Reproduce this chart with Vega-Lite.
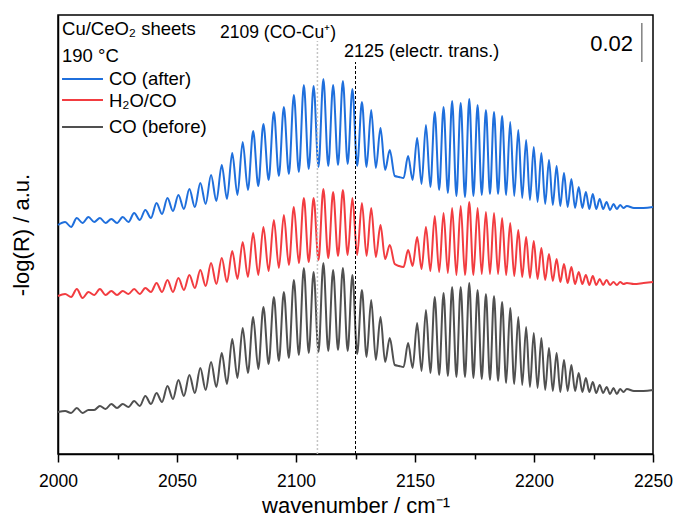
{
  "$schema": "https://vega.github.io/schema/vega-lite/v6.json",
  "width": 595,
  "height": 439,
  "autosize": {"type": "none"},
  "padding": {"left": 58, "top": 15, "right": 23, "bottom": 70},
  "background": "white",
  "config": {
    "font": "Liberation Sans",
    "view": {"stroke": "black", "strokeWidth": 1.5},
    "axis": {"grid": false, "domainColor": "black", "domainWidth": 1.5, "tickColor": "black", "tickWidth": 1.5, "labelColor": "black", "titleColor": "black", "titleFontWeight": "normal", "titleFont": "Liberation Sans", "labelFont": "Liberation Sans"}
  },
  "layer": [
    {
      "data": {"values": [
        {"x":2000,"b":114.5,"r":79,"k":21},
        {"x":2003.0,"b":116,"r":80,"k":21.5},
        {"x":2005.5,"b":113.5,"r":78.5,"k":20.5},
        {"x":2007.9,"b":118,"r":82.5,"k":23},
        {"x":2010.3,"b":115.5,"r":78,"k":20.5},
        {"x":2012.8,"b":118.5,"r":81,"k":22},
        {"x":2015.2,"b":116,"r":79.5,"k":22},
        {"x":2017.6,"b":118,"r":82.5,"k":24},
        {"x":2020.0,"b":115.5,"r":79.5,"k":22.5},
        {"x":2022.4,"b":117.5,"r":81.5,"k":25},
        {"x":2024.8,"b":115.5,"r":79.5,"k":23},
        {"x":2027.2,"b":118.5,"r":81.5,"k":25},
        {"x":2029.6,"b":116,"r":80,"k":23.5},
        {"x":2032.0,"b":120.5,"r":82.5,"k":26.5},
        {"x":2034.35,"b":117,"r":80,"k":24},
        {"x":2036.7,"b":122,"r":83,"k":29},
        {"x":2039.05,"b":118,"r":81,"k":25},
        {"x":2041.4,"b":125.5,"r":85.5,"k":30.5},
        {"x":2043.7,"b":120,"r":81,"k":26},
        {"x":2046.0,"b":128,"r":87,"k":34},
        {"x":2048.3,"b":121.5,"r":81,"k":27.5},
        {"x":2050.6,"b":129.5,"r":88,"k":37},
        {"x":2052.9,"b":122.5,"r":82,"k":29},
        {"x":2055.2,"b":132.5,"r":89.5,"k":39.5},
        {"x":2057.5,"b":123.5,"r":83,"k":30.5},
        {"x":2059.8,"b":135.5,"r":92,"k":43},
        {"x":2062.05,"b":125,"r":84,"k":32},
        {"x":2064.3,"b":139.5,"r":95.5,"k":46},
        {"x":2066.55,"b":126.5,"r":85,"k":33.5},
        {"x":2068.8,"b":144.5,"r":98,"k":50.5},
        {"x":2071.0,"b":127.5,"r":86,"k":35},
        {"x":2073.2,"b":150.5,"r":101.5,"k":57.5},
        {"x":2075.4,"b":129.5,"r":87.5,"k":38},
        {"x":2077.6,"b":156,"r":106,"k":63},
        {"x":2079.8,"b":132,"r":88.5,"k":40.5},
        {"x":2082.0,"b":161.5,"r":110.5,"k":68.5},
        {"x":2084.15,"b":134,"r":89.5,"k":42.5},
        {"x":2086.3,"b":165,"r":113.5,"k":73.5},
        {"x":2088.5,"b":137,"r":91.5,"k":45},
        {"x":2090.7,"b":171,"r":117,"k":78.5},
        {"x":2092.8,"b":139,"r":93,"k":46.5},
        {"x":2094.9,"b":173.5,"r":119.5,"k":81},
        {"x":2097.0,"b":140,"r":94.5,"k":48},
        {"x":2099.1,"b":179.5,"r":123.5,"k":87},
        {"x":2101.2,"b":141,"r":95.5,"k":49.5},
        {"x":2103.3,"b":184.5,"r":128,"k":93},
        {"x":2105.35,"b":142.5,"r":96,"k":50.5},
        {"x":2107.4,"b":184,"r":128,"k":91},
        {"x":2109.45,"b":143.5,"r":97,"k":51},
        {"x":2111.5,"b":187.5,"r":132.5,"k":95.5},
        {"x":2113.55,"b":144,"r":98,"k":51.5},
        {"x":2115.6,"b":184.5,"r":131,"k":92},
        {"x":2117.65,"b":144.5,"r":99,"k":52},
        {"x":2119.7,"b":186.5,"r":132,"k":93},
        {"x":2121.7,"b":145,"r":99.5,"k":51.5},
        {"x":2123.7,"b":182.5,"r":128,"k":89.5},
        {"x":2125.7,"b":144,"r":99.5,"k":50},
        {"x":2127.7,"b":176,"r":125.5,"k":82},
        {"x":2129.65,"b":143.5,"r":99,"k":48.5},
        {"x":2131.6,"b":172,"r":123,"k":77},
        {"x":2133.55,"b":143,"r":98.5,"k":47},
        {"x":2135.5,"b":163,"r":114.5,"k":68.5},
        {"x":2137.45,"b":142,"r":97.5,"k":46},
        {"x":2139.4,"b":152,"r":104.5,"k":58},
        {"x":2141.5,"b":139,"r":95,"k":44.5},
        {"x":2143.3,"b":138.5,"r":94,"k":44},
        {"x":2145.2,"b":138,"r":93.5,"k":43.5},
        {"x":2147.1,"b":149,"r":102,"k":55.5},
        {"x":2149.0,"b":137,"r":94,"k":43},
        {"x":2150.9,"b":158,"r":108.5,"k":65.5},
        {"x":2152.75,"b":135,"r":92.5,"k":41.5},
        {"x":2154.6,"b":164.5,"r":113.5,"k":72},
        {"x":2156.45,"b":133.5,"r":91.5,"k":40.5},
        {"x":2158.3,"b":171,"r":119,"k":78.5},
        {"x":2160.15,"b":132,"r":91,"k":39.5},
        {"x":2162.0,"b":173.5,"r":120.5,"k":80.5},
        {"x":2163.8,"b":130.5,"r":90.5,"k":39},
        {"x":2165.6,"b":176.5,"r":123,"k":83.5},
        {"x":2167.4,"b":129,"r":89.5,"k":38.5},
        {"x":2169.2,"b":175.5,"r":124,"k":83.5},
        {"x":2171.0,"b":128.5,"r":89.5,"k":38.5},
        {"x":2172.8,"b":177.5,"r":126,"k":85.5},
        {"x":2174.55,"b":129,"r":89.5,"k":38},
        {"x":2176.3,"b":174.5,"r":123,"k":82},
        {"x":2178.05,"b":129.5,"r":90,"k":37.5},
        {"x":2179.8,"b":172,"r":121,"k":80},
        {"x":2181.5,"b":130,"r":90,"k":37},
        {"x":2183.2,"b":171,"r":120.5,"k":79},
        {"x":2184.9,"b":130,"r":90,"k":36.5},
        {"x":2186.6,"b":169,"r":118,"k":76},
        {"x":2188.3,"b":129.5,"r":89.5,"k":35.5},
        {"x":2190.0,"b":166,"r":115.5,"k":73},
        {"x":2191.7,"b":129,"r":89,"k":35},
        {"x":2193.4,"b":162,"r":112,"k":68.5},
        {"x":2195.05,"b":128,"r":88.5,"k":34.5},
        {"x":2196.7,"b":157,"r":108.5,"k":63.5},
        {"x":2198.3,"b":127,"r":88,"k":33.5},
        {"x":2199.9,"b":153.5,"r":106.5,"k":60.5},
        {"x":2201.5,"b":126,"r":87.5,"k":33},
        {"x":2203.1,"b":150.5,"r":103,"k":58},
        {"x":2204.7,"b":125,"r":87,"k":32},
        {"x":2206.3,"b":147,"r":100,"k":53},
        {"x":2207.9,"b":124.5,"r":86.5,"k":31.5},
        {"x":2209.5,"b":144,"r":97.5,"k":50.5},
        {"x":2211.05,"b":124,"r":86,"k":31},
        {"x":2212.6,"b":140.5,"r":95,"k":47},
        {"x":2214.15,"b":123.5,"r":85.5,"k":31.5},
        {"x":2215.7,"b":137.5,"r":93.5,"k":44.5},
        {"x":2217.25,"b":123,"r":85,"k":31.5},
        {"x":2218.8,"b":133.5,"r":91,"k":40.5},
        {"x":2220.3,"b":123,"r":85,"k":31},
        {"x":2221.8,"b":131,"r":89.5,"k":38},
        {"x":2223.25,"b":122.5,"r":84.5,"k":31},
        {"x":2224.7,"b":130,"r":89,"k":36},
        {"x":2226.15,"b":122.5,"r":84.5,"k":30.5},
        {"x":2227.6,"b":127.5,"r":87.5,"k":34.5},
        {"x":2229.05,"b":122.5,"r":84.5,"k":30.5},
        {"x":2230.5,"b":126,"r":87,"k":33.5},
        {"x":2231.95,"b":122,"r":84.5,"k":30},
        {"x":2233.4,"b":125,"r":86,"k":33},
        {"x":2234.8,"b":122.5,"r":84.5,"k":30},
        {"x":2236.2,"b":124.5,"r":86,"k":32.5},
        {"x":2237.6,"b":123,"r":85,"k":31},
        {"x":2239.0,"b":124,"r":85.5,"k":32.5},
        {"x":2242,"b":123,"r":85,"k":31.5},
        {"x":2246,"b":123,"r":85.5,"k":31.5},
        {"x":2250,"b":123.5,"r":86,"k":32}
      ]},
      "transform": [{"fold": ["k", "r", "b"], "as": ["s", "y"]}],
      "mark": {"type": "line", "interpolate": "monotone", "strokeWidth": 2},
      "encoding": {
        "x": {"field": "x", "type": "quantitative",
          "scale": {"domain": [2000, 2250], "nice": false, "zero": false},
          "axis": {
            "title": "wavenumber / cm⁻¹",
            "values": [2000, 2025, 2050, 2075, 2100, 2125, 2150, 2175, 2200, 2225, 2250],
            "labelExpr": "datum.value % 50 === 0 ? datum.label : ''",
            "format": "d",
            "tickSize": {"condition": {"test": "datum.value % 50 !== 0", "value": 5}, "value": 8},
            "labelFontSize": 17.5,
            "labelPadding": 10,
            "labelFlush": false,
            "labelOverlap": false,
            "titleFontSize": 22,
            "titlePadding": 6
          }
        },
        "y": {"field": "y", "type": "quantitative",
          "scale": {"domain": [0, 219.5], "nice": false, "zero": false},
          "axis": {"title": "-log(R) / a.u.", "labels": false, "ticks": false, "titleFontSize": 22, "titlePadding": 25}
        },
        "color": {"field": "s", "type": "nominal",
          "scale": {"domain": ["b", "r", "k"], "range": ["#1f6fdc", "#f23c40", "#505050"]},
          "legend": null}
      }
    },
    {
      "data": {"values": [{}]},
      "mark": {"type": "rule", "color": "#c4c4c4", "strokeWidth": 1.5, "strokeDash": [2, 2]},
      "encoding": {"x": {"datum": 2109}, "y": {"datum": 0}, "y2": {"datum": 206.5}}
    },
    {
      "data": {"values": [{}]},
      "mark": {"type": "rule", "color": "black", "strokeWidth": 1, "strokeDash": [3, 2]},
      "encoding": {"x": {"datum": 2125}, "y": {"datum": 0}, "y2": {"datum": 196}}
    },
    {
      "data": {"values": [{}]},
      "mark": {"type": "rule", "color": "#808080", "strokeWidth": 1.5},
      "encoding": {"x": {"datum": 2245.3}, "y": {"datum": 196}, "y2": {"datum": 215.5}}
    },
    {
      "data": {"values": [{}]},
      "mark": {"type": "rule", "color": "#1f6fdc", "strokeWidth": 2},
      "encoding": {"x": {"datum": 2001.7}, "x2": {"datum": 2018.9}, "y": {"datum": 187.5}}
    },
    {
      "data": {"values": [{}]},
      "mark": {"type": "rule", "color": "#f23c40", "strokeWidth": 2},
      "encoding": {"x": {"datum": 2001.7}, "x2": {"datum": 2018.9}, "y": {"datum": 177}}
    },
    {
      "data": {"values": [{}]},
      "mark": {"type": "rule", "color": "#505050", "strokeWidth": 2},
      "encoding": {"x": {"datum": 2001.7}, "x2": {"datum": 2018.9}, "y": {"datum": 163.5}}
    },
    {
      "data": {"values": [{}]},
      "mark": {"type": "text", "text": "Cu/CeO₂ sheets", "align": "left", "baseline": "middle", "fontSize": 18.5, "color": "black"},
      "encoding": {"x": {"datum": 2001.7}, "y": {"datum": 212.3}}
    },
    {
      "data": {"values": [{}]},
      "mark": {"type": "text", "text": "190 °C", "align": "left", "baseline": "middle", "fontSize": 18.5, "color": "black"},
      "encoding": {"x": {"datum": 2001.7}, "y": {"datum": 199}}
    },
    {
      "data": {"values": [{}]},
      "mark": {"type": "text", "text": "CO (after)", "align": "left", "baseline": "middle", "fontSize": 18.5, "color": "black"},
      "encoding": {"x": {"datum": 2021.4}, "y": {"datum": 187.5}}
    },
    {
      "data": {"values": [{}]},
      "mark": {"type": "text", "text": "H₂O/CO", "align": "left", "baseline": "middle", "fontSize": 18.5, "color": "black"},
      "encoding": {"x": {"datum": 2021.4}, "y": {"datum": 176.7}}
    },
    {
      "data": {"values": [{}]},
      "mark": {"type": "text", "text": "CO (before)", "align": "left", "baseline": "middle", "fontSize": 18.5, "color": "black"},
      "encoding": {"x": {"datum": 2021.4}, "y": {"datum": 163.5}}
    },
    {
      "data": {"values": [{}]},
      "mark": {"type": "text", "text": "2109 (CO-Cu⁺)", "align": "left", "baseline": "middle", "fontSize": 17.5, "color": "black"},
      "encoding": {"x": {"datum": 2068.1}, "y": {"datum": 210.5}}
    },
    {
      "data": {"values": [{}]},
      "mark": {"type": "text", "text": "2125 (electr. trans.)", "align": "left", "baseline": "middle", "fontSize": 18, "color": "black"},
      "encoding": {"x": {"datum": 2120.2}, "y": {"datum": 201}}
    },
    {
      "data": {"values": [{}]},
      "mark": {"type": "text", "text": "0.02", "align": "right", "baseline": "middle", "fontSize": 22, "color": "black"},
      "encoding": {"x": {"datum": 2241.6}, "y": {"datum": 205}}
    }
  ]
}
